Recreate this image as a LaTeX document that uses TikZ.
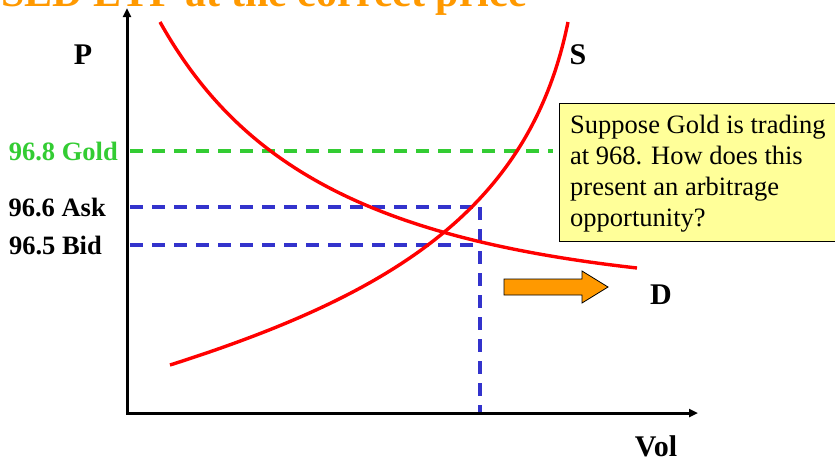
\documentclass[tikz,border=0pt]{standalone}
\usepackage{fontspec}
\setmainfont{Liberation Serif}
\usetikzlibrary{arrows.meta,positioning}
\definecolor{titleorange}{HTML}{FF9900}
\definecolor{goldgreen}{HTML}{33CC33}
\definecolor{quoteblue}{HTML}{3333CC}
\definecolor{curvered}{HTML}{FF0000}
\definecolor{notefill}{HTML}{FFFF99}
\definecolor{shiftfill}{HTML}{FF9900}

\begin{document}
\begin{tikzpicture}[x=1pt, y=-1pt,
    axis/.style={line width=3pt, black},
    curve/.style={line width=3.4pt, curvered, line join=round},
    quote/.style={line width=3.6pt, dash pattern=on 13pt off 9pt},
    axislbl/.style={font=\fontsize{30}{30}\selectfont\bfseries, inner sep=0pt},
    pricelbl/.style={font=\fontsize{26.5}{26.5}\selectfont\bfseries, inner sep=0pt, anchor=east}]
\useasboundingbox (0,0) rectangle (835,459);
\clip (0,0) rectangle (835,459);

% title, cut off at the top
\node[anchor=base east, inner sep=0pt, titleorange, font=\fontsize{42}{42}\selectfont\bfseries] (title) at (527,6) {SED ETF at the correct price};

% axes
\coordinate (ytop) at (127,8);
\coordinate (origin) at (127,413);
\coordinate (xend) at (698,413);
\draw[axis, {Triangle[length=9pt,width=8pt]}-{Triangle[length=9pt,width=8pt]}] (ytop) -- (origin) -- (xend);
\node[axislbl] (plbl) at (83,55) {P};
\node[axislbl] (vollbl) at (656,446) {Vol};

% price levels
\node[pricelbl, goldgreen] (goldlbl) at (118,151) {96.8 Gold};
\node[pricelbl] (asklbl) at (106,207) {96.6 Ask};
\node[pricelbl] (bidlbl) at (102,245) {96.5 Bid};
\coordinate (goldy) at (130,151);
\coordinate (goldend) at (553,151);
\coordinate (asky) at (130,207);
\coordinate (bidy) at (130,245);
\coordinate (askend) at (480,207);
\coordinate (bidend) at (480,245);
\coordinate (volq) at (480,412);
\draw[quote, goldgreen] (goldy) -- (goldend);
\draw[quote, quoteblue] (asky) -- (askend);
\draw[quote, quoteblue] (bidy) -- (bidend);
\draw[quote, quoteblue] (askend) -- (volq);

% demand and supply
\draw[curve] (160,22) .. controls (240,165) and (370,238) .. (637,268);
\draw[curve] (170,365) .. controls (390,295) and (530,210) .. (568,22);
\node[axislbl] (slbl) at (578,55) {S};
\node[axislbl] (dlbl) at (661,295) {D};

% demand shift
\draw[line width=0.8pt, fill=shiftfill] (504,279) -- (582,279) -- (582,271) -- (608,287) -- (582,303) -- (582,295) -- (504,295) -- cycle;

% question
\draw[line width=0.8pt, fill=notefill] (559,103) rectangle (845,241);
\node[anchor=north west, inner sep=0pt, align=left, font=\fontsize{26.5}{31}\selectfont] (note) at (570,115) {Suppose Gold is trading\\at 968. How does this\\present an arbitrage\\opportunity?};
\end{tikzpicture}
\end{document}
